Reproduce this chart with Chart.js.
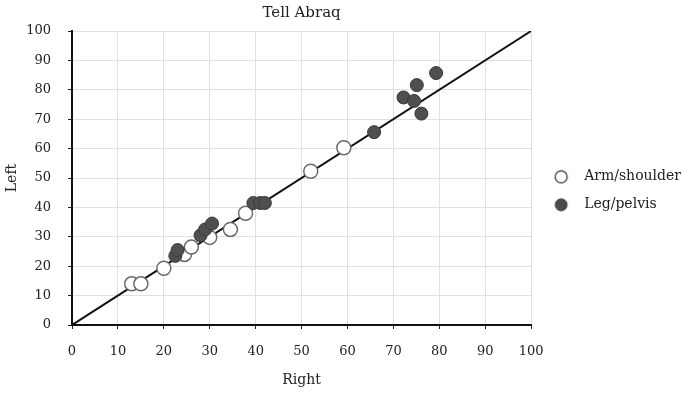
<!DOCTYPE html>
<html>
<head>
<meta charset="utf-8">
<script src="https://cdn.jsdelivr.net/npm/chart.js@4/dist/chart.umd.min.js"></script>
<style>
  html, body { margin: 0; padding: 0; background: #fff; }
  #wrap { width: 695px; height: 395px; }
</style>
</head>
<body>
<div id="wrap"><canvas id="myChart"></canvas></div>
<script>
// Tell Abraq - left vs right measurements
let armRight = [13, 15, 20, 24.5, 26, 30, 34.5, 37.8, 52, 59.2];
let armLeft  = [14, 14, 19.3, 24, 26.5, 29.8, 32.5, 38, 52.3, 60.3];
let legRight = [22.5, 23, 28, 29, 30.5, 39.5, 41, 42, 65.8, 72.2, 74.5, 75.1, 76.1, 79.3];
let legLeft  = [23.5, 25.5, 30.5, 32.5, 34.5, 41.5, 41.5, 41.5, 65.6, 77.4, 76.2, 81.6, 71.9, 85.7];
let lineRight = [0, 100];
let lineLeft  = [0, 100];

function toPoints(xs, ys) {
    return xs.map(function(x, i) { return { x: x, y: ys[i] }; });
}

// small circle images for the legend
function marker(fill, stroke, lw) {
    let c = document.createElement('canvas');
    c.width = 16; c.height = 16;
    let g = c.getContext('2d');
    g.beginPath();
    g.arc(8, 8, 6, 0, Math.PI * 2);
    g.fillStyle = fill;
    g.fill();
    g.lineWidth = lw;
    g.strokeStyle = stroke;
    g.stroke();
    return c;
}
let legendMarkers = [marker('#ffffff', '#555', 1.5), marker('#4a4a4a', '#3a3a3a', 1)];

let serif = "'DejaVu Serif', 'Liberation Serif', serif";

var ctx = document.getElementById('myChart').getContext('2d');
var chart = new Chart(ctx, {
    type: 'scatter',
    data: {
        datasets: [{
            label: 'Arm/shoulder',
            data: toPoints(armRight, armLeft),
            backgroundColor: '#ffffff',
            borderColor: '#6a6a6a',
            borderWidth: 1.5,
            pointRadius: 7,
            order: 1
        }, {
            label: 'Leg/pelvis',
            data: toPoints(legRight, legLeft),
            backgroundColor: '#4f4f4f',
            borderColor: '#3a3a3a',
            borderWidth: 1,
            pointRadius: 6.5,
            order: 0
        }, {
            label: 'line',
            type: 'line',
            data: toPoints(lineRight, lineLeft),
            borderColor: '#111',
            borderWidth: 2,
            pointRadius: 0,
            showLine: true,
            order: 2
        }]
    },
    options: {
        responsive: true,
        maintainAspectRatio: false,
        animation: false,
        layout: { padding: { top: 2, right: 4, bottom: 2, left: 2 } },
        plugins: {
            title: {
                display: true,
                text: 'Tell Abraq',
                fullSize: false,
                color: '#222',
                font: { family: serif, size: 15, weight: 'normal' },
                padding: { top: 2, bottom: 9 }
            },
            legend: {
                position: 'right',
                align: 'start',
                // empty title only used to push the items down
                title: { display: true, text: '', padding: { top: 0, bottom: 137 }, font: { size: 14 } },
                labels: {
                    usePointStyle: true,
                    pointStyleWidth: 32,
                    boxHeight: 12,
                    padding: 14,
                    color: '#222',
                    font: { family: serif, size: 14 },
                    generateLabels: function(chart) {
                        let items = Chart.defaults.plugins.legend.labels.generateLabels(chart);
                        items = items.filter(function(it) { return it.text !== 'line'; });
                        items.forEach(function(it) { it.pointStyle = legendMarkers[it.datasetIndex]; });
                        return items;
                    },
                    sort: function(a, b) { return a.datasetIndex - b.datasetIndex; }
                }
            },
            tooltip: { enabled: false }
        },
        scales: {
            x: {
                type: 'linear',
                min: 0,
                max: 100,
                ticks: { stepSize: 10, color: '#222', padding: 15, font: { family: serif, size: 13 } },
                grid: { color: '#e0e0e0', tickColor: '#222', tickLength: 4 },
                border: { color: '#111', width: 2 },
                title: { display: true, text: 'Right', color: '#222', padding: { top: 4, bottom: 4 }, font: { family: serif, size: 14 } },
                afterFit: function(scale) { scale.height = 68; }
            },
            y: {
                type: 'linear',
                min: 0,
                max: 100,
                ticks: { stepSize: 10, color: '#222', padding: 17, font: { family: serif, size: 13 } },
                grid: { color: '#e0e0e0', tickColor: '#222', tickLength: 4 },
                border: { color: '#111', width: 2 },
                title: { display: true, text: 'Left', color: '#222', padding: { top: 2, bottom: 4 }, font: { family: serif, size: 14 } },
                afterFit: function(scale) { scale.width = 70; }
            }
        }
    }
});
</script>
</body>
</html>
